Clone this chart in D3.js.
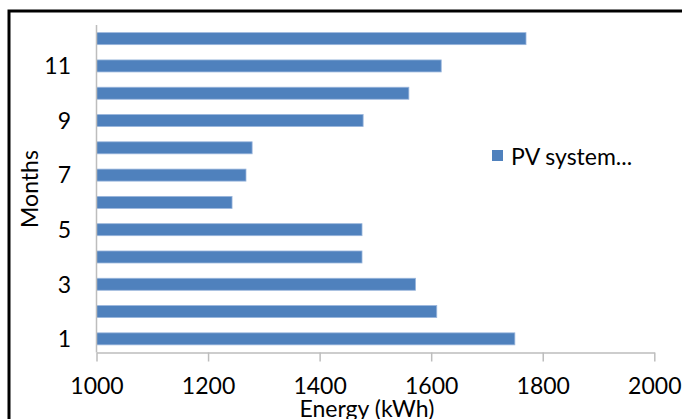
<!DOCTYPE html>
<html>
<head>
<meta charset="utf-8">
<script src="https://cdn.jsdelivr.net/npm/d3@7"></script>
<style>
  html, body { margin: 0; padding: 0; background: #fff; overflow: hidden; }
  svg { display: block; }
  text { font-family: Lato, "Open Sans", sans-serif; fill: #000; }
</style>
</head>
<body>
<svg id="chart" width="682" height="419"></svg>
<script>
// Monthly energy yield of the PV system (kWh)
const months = [1, 2, 3, 4, 5, 6, 7, 8, 9, 10, 11, 12];
const energy = [1750, 1610, 1572, 1476, 1476, 1243, 1268, 1279, 1478, 1560, 1618, 1770];
const xTicks = [1000, 1200, 1400, 1600, 1800, 2000];
const yLabels = [1, 3, 5, 7, 9, 11];
const seriesName = "PV system...";

const svg = d3.select("#chart");
const W = 682, H = 419;
const plot = { left: 96.5, right: 654.3, top: 25, bottom: 352.5 };
const fontSize = 23;

// outer frame (runs past the right and bottom edges)
svg.append("rect")
  .attr("x", 9).attr("y", 11)
  .attr("width", W + 20).attr("height", H + 20)
  .attr("fill", "none").attr("stroke", "#000").attr("stroke-width", 3);

const x = d3.scaleLinear().domain([1000, 2000]).range([plot.left, plot.right]);
const y = d3.scaleBand().domain(months).range([plot.bottom, plot.top]).paddingInner(0.56).paddingOuter(0.28);

// bars
svg.append("g").selectAll("rect")
  .data(months.map((m, i) => ({ m, v: energy[i] })))
  .join("rect")
  .attr("x", x(1000))
  .attr("y", d => y(d.m))
  .attr("width", d => x(d.v) - x(1000))
  .attr("height", y.bandwidth())
  .attr("fill", "#4F81BD")
  .attr("stroke", "#9ab6dc")
  .attr("stroke-width", 0.8);

// x axis
const xAxis = d3.axisBottom(x).tickValues(xTicks).tickFormat(d3.format("d"))
  .tickSize(9).tickSizeOuter(0).tickPadding(0);
const gx = svg.append("g").attr("transform", `translate(0,${plot.bottom})`).call(xAxis);
gx.select(".domain").attr("stroke", "#bdbdbd").attr("stroke-width", 1.5);
gx.selectAll(".tick line").attr("stroke", "#bdbdbd").attr("stroke-width", 1.5);
gx.selectAll(".tick text")
  .attr("y", 41).attr("dy", null)
  .attr("font-size", fontSize).attr("fill", "#000")
  .style("font-family", "Lato, sans-serif");

// y axis: vertical line only, odd month labels
svg.append("line")
  .attr("x1", plot.left).attr("x2", plot.left)
  .attr("y1", plot.top).attr("y2", plot.bottom)
  .attr("stroke", "#bdbdbd").attr("stroke-width", 1.5);

svg.append("g").selectAll("text")
  .data(yLabels)
  .join("text")
  .attr("x", 71)
  .attr("y", d => y(d) + y.bandwidth() / 2)
  .attr("dy", "0.36em")
  .attr("text-anchor", "end")
  .attr("font-size", fontSize)
  .text(d => d);

// axis titles
svg.append("text")
  .attr("x", 367).attr("y", 417)
  .attr("text-anchor", "middle")
  .attr("font-size", fontSize)
  .text("Energy (kWh)");

svg.append("text")
  .attr("transform", `translate(38,189) rotate(-90)`)
  .attr("text-anchor", "middle")
  .attr("font-size", fontSize)
  .text("Months");

// legend
const lg = svg.append("g").attr("transform", "translate(492,150)");
lg.append("rect").attr("width", 11).attr("height", 11).attr("fill", "#4F81BD");
lg.append("text").attr("x", 19).attr("y", 15).attr("font-size", fontSize).text(seriesName);
</script>
</body>
</html>
